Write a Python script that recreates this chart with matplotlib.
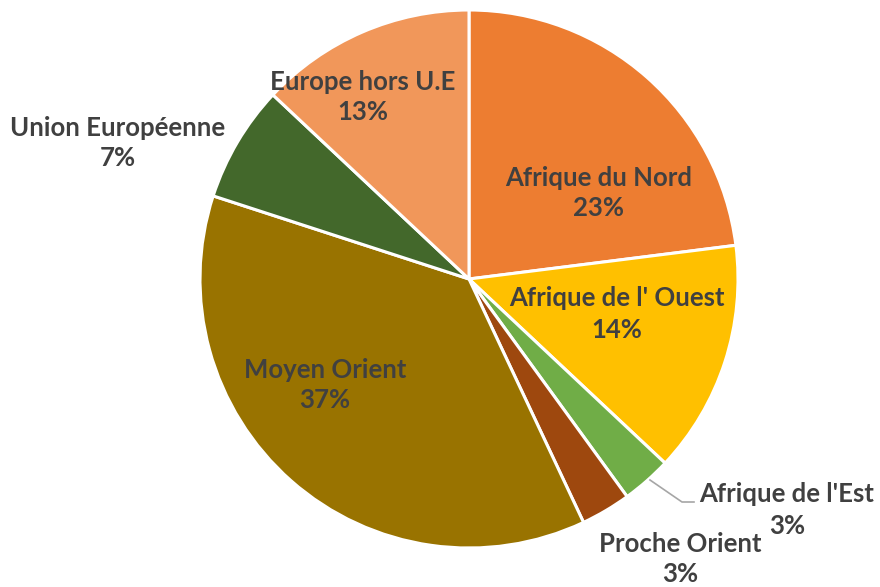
import matplotlib
matplotlib.use("Agg")
import matplotlib.pyplot as plt

categories = ["Afrique du Nord", "Afrique de l' Ouest", "Afrique de l'Est",
              "Proche Orient", "Moyen Orient", "Union Européenne", "Europe hors U.E"]
values = [23, 14, 3, 3, 37, 7, 13]
colors = ["#ED7D31", "#FFC000", "#70AD47", "#9E480E", "#997300", "#43682B", "#F1975A"]
# label centres in pixel coords (x, y from top)
label_pos = [(599, 193), (617, 314), (787, 510), (680, 559), (325, 385), (118, 143), (363, 97)]

W, H = 880, 587
fig = plt.figure(figsize=(W / 100, H / 100), dpi=100)
ax = fig.add_axes([0, 0, 1, 1])

cx, cy, r = 469, 279, 269
ax.pie(values, colors=colors, startangle=90, counterclock=False,
       center=(cx, H - cy), radius=r, frame=True,
       wedgeprops=dict(edgecolor="white", linewidth=2.2))
ax.set_xlim(0, W)
ax.set_ylim(0, H)
ax.set_aspect("equal")
ax.axis("off")

# leader line for Afrique de l'Est
ax.plot([650, 682, 694], [H - 480, H - 502, H - 502], color="#A6A6A6", lw=1.2)

for cat, v, (x, y) in zip(categories, values, label_pos):
    ax.text(x, H - y, f"{cat}\n{v}%", ha="center", va="center",
            fontsize=18.5, fontweight="bold", color="#404040",
            family="Lato", linespacing=1.35)

fig.savefig("out.png", dpi=100)
